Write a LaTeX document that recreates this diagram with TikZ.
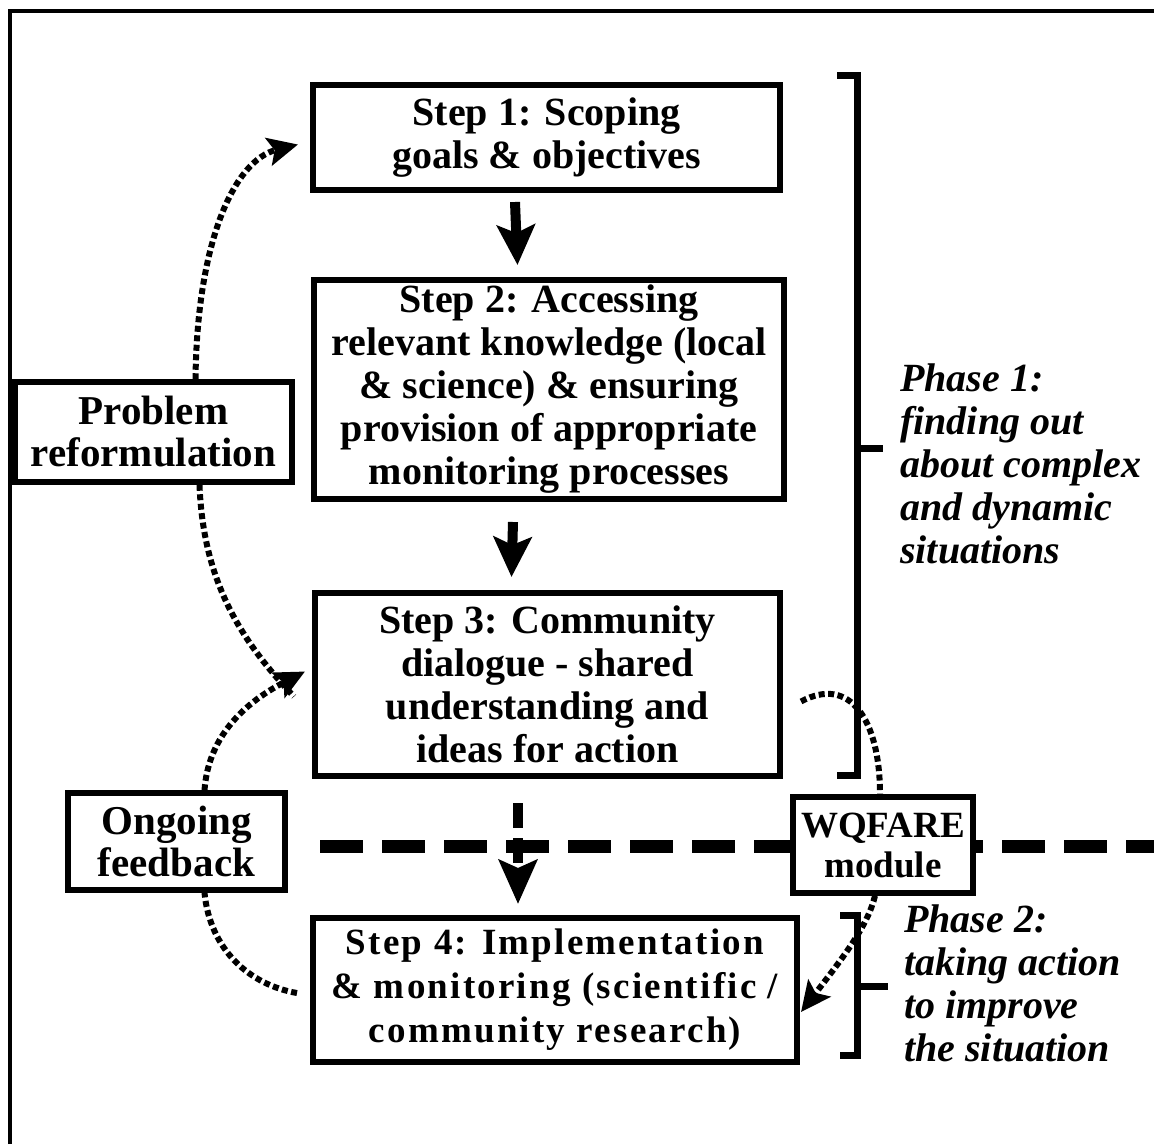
\documentclass[tikz,border=0pt]{standalone}
\usepackage{fontspec}
\setmainfont{Liberation Serif}
\newfontfamily\stepfourfont[LetterSpace=6]{Liberation Serif}
\usetikzlibrary{arrows.meta,calc}
\begin{document}
\begin{tikzpicture}[x=1pt,y=-1pt,
  stepbox/.style={draw,line width=6pt,fill=white,inner sep=0pt,align=center,
    font=\bfseries\fontsize{40}{43}\selectfont},
  sidebox/.style={draw,line width=5.5pt,fill=white,inner sep=0pt,align=center,
    font=\bfseries\fontsize{41}{42}\selectfont},
  phasetext/.style={inner sep=0pt,align=left,anchor=west,
    font=\bfseries\itshape\fontsize{40}{43}\selectfont},
  flowarrow/.style={line width=10pt,-{Stealth[length=40pt,width=38pt,inset=8pt]}},
  fbline/.style={line width=6pt,dash pattern=on 6pt off 3.5pt},
  fbarrow/.style={fbline,-{Stealth[length=30pt,width=28pt,inset=6pt]}},
  bracketline/.style={line width=7pt},
  frameline/.style={line width=3.5pt}
]
\useasboundingbox (0,0) rectangle (1154,1144);
% outer frame (cropped)
\coordinate (fbl) at (10,1144);
\coordinate (ftl) at (10,11);
\coordinate (ftr) at (1154,11);
\draw[frameline] (fbl) -- (ftl) -- (ftr);

% horizontal phase divider
\coordinate (hl) at (320,846);
\coordinate (hr) at (1160,846);
\draw[line width=13pt,dash pattern=on 43pt off 19pt] (hl) -- (hr);

% steps
\node[stepbox,minimum width=467pt,minimum height=105pt] (s1) at (546.5,137.5)
  {Step 1: Scoping\\goals \& objectives};
\node[stepbox,minimum width=470pt,minimum height=219pt] (s2) at (549,389.5)
  {Step 2: Accessing\\relevant knowledge (local\\\& science) \& ensuring\\provision of appropriate\\monitoring processes};
\node[stepbox,minimum width=465pt,minimum height=183pt] (s3) at (547.5,684.5)
  {Step 3: Community\\dialogue - shared\\understanding and\\ideas for action};
\node[stepbox,minimum width=484pt,minimum height=144pt,
  font=\stepfourfont\bfseries\fontsize{37}{44}\selectfont] (s4) at (555,990)
  {Step 4: Implementation\\\& monitoring (scientific /\\community research)};

% side boxes
\node[sidebox,minimum width=277pt,minimum height=100pt] (pr) at (153.5,432)
  {Problem\\reformulation};
\node[sidebox,minimum width=217pt,minimum height=97pt] (of) at (176.5,841.5)
  {Ongoing\\feedback};
\node[sidebox,minimum width=180pt,minimum height=96pt,
  font=\bfseries\fontsize{37}{40}\selectfont] (wq) at (883,845)
  {WQFARE\\module};

% main flow arrows
\draw[flowarrow] ([xshift=-31.5pt,yshift=-9pt]s1.south) -- ([xshift=-31.5pt,yshift=12pt]s2.north);
\draw[flowarrow] ([xshift=-36pt,yshift=-20pt]s2.south) -- ([xshift=-36pt,yshift=13pt]s3.north);
\draw[line width=10pt,dash pattern=on 25pt off 10pt,-{Stealth[length=44pt,width=38pt,inset=8pt]}]
  ([xshift=-29.5pt,yshift=-24pt]s3.south) -- ([xshift=-37pt,yshift=11pt]s4.north);

% phase brackets
\coordinate (b1t) at (857,75);
\coordinate (b1b) at (857,775);
\coordinate (b1m) at (857,448);
\draw[bracketline] (837,75) -- (b1t) -- (b1b) -- (837,775);
\draw[bracketline] (b1m) -- (883,448);
\coordinate (b2t) at (857,915);
\coordinate (b2b) at (857,1055);
\coordinate (b2m) at (857,986);
\draw[bracketline] (840,915) -- (b2t) -- (b2b) -- (840,1055);
\draw[bracketline] (b2m) -- (888,986);

\node[phasetext] (p1) at (900,464)
  {Phase 1:\\finding out\\about complex\\and dynamic\\situations};
\node[phasetext] (p2) at (904,983)
  {Phase 2:\\taking action\\to improve\\the situation};

% feedback loops (dotted)
\draw[fbarrow] ([xshift=42pt]pr.north) .. controls (197,240) and (235,160) .. ([xshift=-12pt,yshift=-7pt]s1.west);
\draw[fbline] ([xshift=46pt]pr.south) .. controls (203,580) and (240,640) .. ([xshift=-18pt,yshift=-12pt]s3.west);
\draw[fbarrow] ([xshift=28pt]of.north) .. controls (208,740) and (240,705) .. ([xshift=-7pt,yshift=13pt]s3.west);
\draw[fbline] ([xshift=-13pt,yshift=-3pt]s4.west) .. controls (250,985) and (210,950) .. ([xshift=28pt]of.south);
\draw[fbline] ([xshift=18pt,yshift=-17pt]s3.east) .. controls (850,675) and (880,720) .. ([xshift=-3pt]wq.north);
\draw[fbarrow] ([xshift=-8pt]wq.south) .. controls (868,925) and (845,955) .. ([xshift=1pt,yshift=-22pt]s4.east);
\end{tikzpicture}
\end{document}
